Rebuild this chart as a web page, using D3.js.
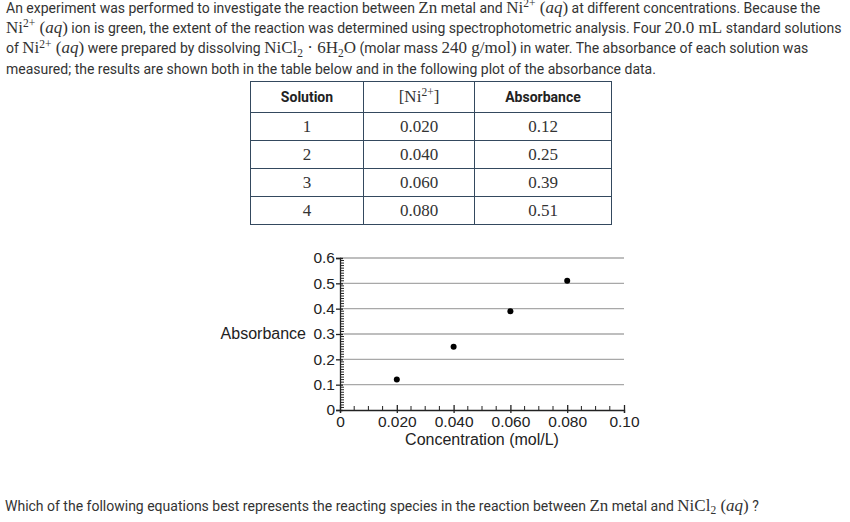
<!DOCTYPE html>
<html>
<head>
<meta charset="utf-8">
<script src="https://cdn.jsdelivr.net/npm/d3@7"></script>
<style>
  body { margin: 0; width: 850px; height: 522px; background: #fff; position: relative; overflow: hidden;
         font-family: Roboto, "Noto Sans", sans-serif; color: #333; }
  .m { font-family: "Liberation Serif", "DejaVu Serif", serif; font-size: 17px; line-height: 0; }
  .m i { font-style: italic; }
  sup, sub { font-size: 11.5px; line-height: 0; vertical-align: 0; position: relative; }
  sup { top: -0.5em; }
  sub { top: 0.3em; }
  #intro { position: absolute; left: 6px; top: -2px; font-size: 14px; line-height: 20.2px; white-space: nowrap; }
  #question { position: absolute; left: 5px; top: 496px; font-size: 14px; line-height: 20px; white-space: nowrap; }
  table { position: absolute; left: 250px; top: 81px; border-collapse: collapse; }
  td, th { border: 1px solid #34495e; height: 27px; padding: 0; text-align: center; }
  th { height: 30px; font-size: 14px; font-weight: bold; color: #222; }
  td { font-family: "Liberation Serif", serif; font-size: 17px; color: #333; }
  svg { position: absolute; left: 0; top: 0; }
  .tick-label { font-family: "Liberation Sans", Arial, sans-serif; font-size: 15.5px; fill: #222; }
  .axis-title { font-family: "Liberation Sans", Arial, sans-serif; font-size: 16px; fill: #222; }
</style>
</head>
<body>
<div id="intro">
An experiment was performed to investigate the reaction between <span class="m">Zn</span> metal and <span class="m">Ni<sup>2+</sup> (<i>aq</i>)</span> at different concentrations. Because the<br>
<span class="m">Ni<sup>2+</sup> (<i>aq</i>)</span> ion is green, the extent of the reaction was determined using spectrophotometric analysis. Four <span class="m">20.0 mL</span> standard solutions<br>
of <span class="m">Ni<sup>2+</sup> (<i>aq</i>)</span> were prepared by dissolving <span class="m">NiCl<sub>2</sub> · 6H<sub>2</sub>O</span> (molar mass <span class="m">240 g/mol)</span> in water. The absorbance of each solution was<br>
measured; the results are shown both in the table below and in the following plot of the absorbance data.
</div>
<div id="question">Which of the following equations best represents the reacting species in the reaction between <span class="m">Zn</span> metal and <span class="m">NiCl<sub>2</sub> (<i>aq</i>)</span> ?</div>
<table id="tbl"></table>
<svg id="chart" width="850" height="522"></svg>
<script>
const solutions = ["1", "2", "3", "4"]
const concentrations = [0.020, 0.040, 0.060, 0.080]
const absorbances = [0.12, 0.25, 0.39, 0.51]
const columnWidths = [112, 110, 136]
const xTicks = [0, 0.02, 0.04, 0.06, 0.08, 0.10]
const xTickLabels = ["0", "0.020", "0.040", "0.060", "0.080", "0.10"]
const yTicks = [0, 0.1, 0.2, 0.3, 0.4, 0.5, 0.6]
const yTickLabels = ["0", "0.1", "0.2", "0.3", "0.4", "0.5", "0.6"]

// Table
const tbl = d3.select("#tbl")
const head = tbl.append("tr")
head.append("th").style("width", columnWidths[0] + "px").text("Solution")
head.append("th").style("width", columnWidths[1] + "px")
  .html('<span style="font-family:Liberation Serif,serif;font-weight:normal;font-size:17px;color:#333">[Ni<sup>2+</sup>]</span>')
head.append("th").style("width", columnWidths[2] + "px").text("Absorbance")
solutions.forEach((s, i) => {
  const tr = tbl.append("tr")
  tr.append("td").text(s)
  tr.append("td").text(concentrations[i].toFixed(3))
  tr.append("td").text(absorbances[i].toFixed(2))
})

// Chart
const svg = d3.select("#chart")
const x = d3.scaleLinear().domain([0, 0.1]).range([340, 624])
const y = d3.scaleLinear().domain([0, 0.6]).range([410, 258])

// gridlines
svg.append("g").selectAll("line")
  .data(yTicks.filter(d => d > 0))
  .enter().append("line")
  .attr("x1", x(0)).attr("x2", x(0.1))
  .attr("y1", d => y(d)).attr("y2", d => y(d))
  .attr("stroke", "#a8a8a8").attr("stroke-width", 1.4)

// y minor ticks
svg.append("g").selectAll("line")
  .data(d3.range(1, 60).filter(i => i % 10 !== 0).map(i => i / 100))
  .enter().append("line")
  .attr("x1", x(0)).attr("x2", x(0) + 4)
  .attr("y1", d => y(d)).attr("y2", d => y(d))
  .attr("stroke", "#222").attr("stroke-width", 1)

// x minor ticks
svg.append("g").selectAll("line")
  .data(d3.range(1, 20).filter(i => i % 4 !== 0).map(i => i * 0.005))
  .enter().append("line")
  .attr("x1", d => x(d)).attr("x2", d => x(d))
  .attr("y1", y(0)).attr("y2", y(0) - 4)
  .attr("stroke", "#222").attr("stroke-width", 1)

// y axis
const yAxis = svg.append("g")
  .attr("transform", `translate(${x(0)},0)`)
  .call(d3.axisLeft(y).tickValues(yTicks).tickFormat((d, i) => yTickLabels[i]).tickSize(4).tickPadding(2))
yAxis.select(".domain").attr("stroke", "#222").attr("stroke-width", 1.3)
yAxis.selectAll(".tick line").attr("x2", 3).attr("x1", -4).attr("stroke", "#222").attr("stroke-width", 1.3)
yAxis.selectAll("text").attr("class", "tick-label").attr("x", -5)

// x axis
const xAxis = svg.append("g")
  .attr("transform", `translate(0,${y(0)})`)
  .call(d3.axisBottom(x).tickValues(xTicks).tickFormat((d, i) => xTickLabels[i]).tickSize(3).tickPadding(3))
xAxis.select(".domain").attr("stroke", "#222").attr("stroke-width", 1.3)
xAxis.selectAll(".tick line").attr("y1", -5).attr("y2", 3).attr("stroke", "#222").attr("stroke-width", 1.3)
xAxis.selectAll("text").attr("class", "tick-label")

// axis labels
svg.append("text").attr("class", "axis-title")
  .attr("x", 306).attr("y", y(0.3)).attr("dy", "0.32em").attr("text-anchor", "end")
  .text("Absorbance")
svg.append("text").attr("class", "axis-title")
  .attr("x", x(0.05)).attr("y", 445).attr("text-anchor", "middle")
  .text("Concentration (mol/L)")

// points
svg.append("g").selectAll("circle")
  .data(concentrations)
  .enter().append("circle")
  .attr("cx", d => x(d))
  .attr("cy", (d, i) => y(absorbances[i]))
  .attr("r", 3)
  .attr("fill", "#000")
</script>
</body>
</html>
